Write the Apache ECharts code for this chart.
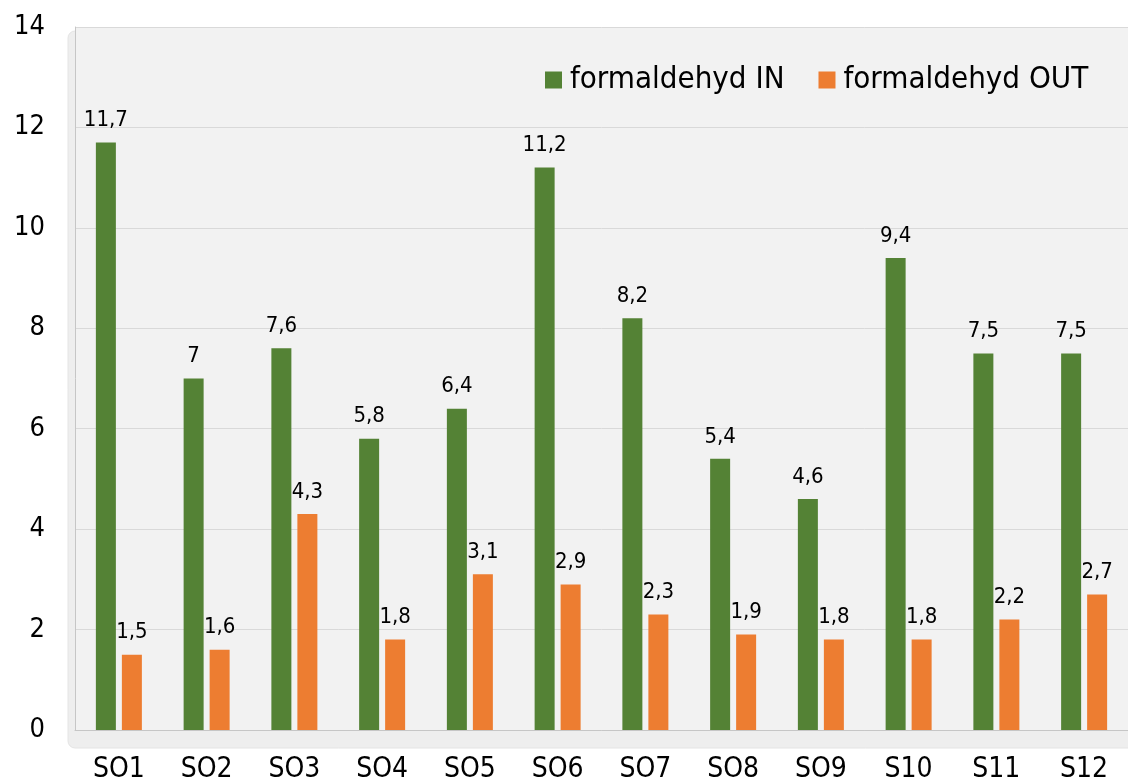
<!DOCTYPE html>
<html>
<head>
<meta charset="utf-8">
<style>
  html, body { margin: 0; padding: 0; background: #ffffff; }
  #chart { width: 1128px; height: 784px; }
</style>
<script src="https://cdn.jsdelivr.net/npm/echarts@6/dist/echarts.min.js"></script>
</head>
<body>
<div id="chart"></div>
<script>
// Sampling points
const categories = ['SO1', 'SO2', 'SO3', 'SO4', 'SO5', 'SO6', 'SO7', 'SO8', 'SO9', 'S10', 'S11', 'S12'];
// Formaldehyde concentration, indoor
const formaldehydIn = [11.7, 7, 7.6, 5.8, 6.4, 11.2, 8.2, 5.4, 4.6, 9.4, 7.5, 7.5];
// Formaldehyde concentration, outdoor
const formaldehydOut = [1.5, 1.6, 4.3, 1.8, 3.1, 2.9, 2.3, 1.9, 1.8, 1.8, 2.2, 2.7];
// Value axis ticks
const yTicks = [0, 2, 4, 6, 8, 10, 12, 14];

const FONT = '"DejaVu Sans Condensed", "DejaVu Sans", sans-serif';
const GREEN = '#548235';
const ORANGE = '#ed7d31';

const chart = echarts.init(document.getElementById('chart'), null, { renderer: 'canvas' });

const commaFormat = p => String(p.value).replace('.', ',');

const labelStyle = {
  show: true,
  position: 'top',
  distance: 11,
  color: '#000000',
  fontFamily: FONT,
  fontSize: 22,
  formatter: commaFormat
};

chart.setOption({
  backgroundColor: '#ffffff',
  animation: false,
  graphic: [
    {
      type: 'rect',
      z: -10,
      silent: true,
      shape: { x: 68, y: 31, width: 1080, height: 717, r: 7 },
      style: { fill: '#eeeeee', stroke: '#e4e4e4', lineWidth: 1 }
    },
    {
      type: 'rect',
      z: -9,
      silent: true,
      shape: { x: 75, y: 27, width: 1070, height: 703 },
      style: { fill: '#f2f2f2' }
    }
  ],
  legend: {
    data: ['formaldehyd IN', 'formaldehyd OUT'],
    left: 545,
    top: 63,
    padding: 0,
    itemWidth: 17,
    itemHeight: 17,
    itemGap: 34,
    icon: 'rect',
    textStyle: {
      color: '#000000',
      fontFamily: FONT,
      fontSize: 31,
      lineHeight: 34,
      padding: [0, 0, 0, 3]
    }
  },
  grid: {
    left: 75,
    top: 27,
    width: 1062,
    height: 703,
    containLabel: false
  },
  xAxis: {
    type: 'category',
    data: categories,
    axisLine: { show: true, lineStyle: { color: '#c6c6c6', width: 1 } },
    axisTick: { show: false },
    axisLabel: {
      color: '#000000',
      fontFamily: FONT,
      fontSize: 28,
      margin: 26
    }
  },
  yAxis: {
    type: 'value',
    min: yTicks[0],
    max: yTicks[yTicks.length - 1],
    interval: 2,
    axisLine: { show: true, lineStyle: { color: '#c6c6c6', width: 1 } },
    axisTick: { show: false },
    splitLine: { show: true, lineStyle: { color: '#d9d9d9', width: 1 } },
    axisLabel: {
      color: '#000000',
      fontFamily: FONT,
      fontSize: 27,
      margin: 30
    }
  },
  series: [
    {
      name: 'formaldehyd IN',
      type: 'bar',
      data: formaldehydIn,
      barWidth: 20,
      barGap: '30%',
      itemStyle: { color: GREEN },
      label: labelStyle
    },
    {
      name: 'formaldehyd OUT',
      type: 'bar',
      data: formaldehydOut,
      barWidth: 20,
      itemStyle: { color: ORANGE },
      label: labelStyle
    }
  ]
});
</script>
</body>
</html>
